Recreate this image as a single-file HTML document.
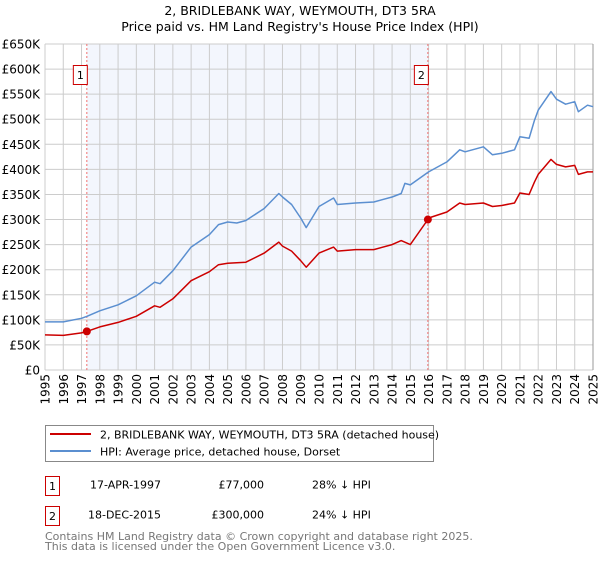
<!DOCTYPE html>
<html><head><meta charset="utf-8"><style>
body{margin:0;background:#fff;font-family:"DejaVu Sans","Liberation Sans",sans-serif}
svg text{font-family:"DejaVu Sans","Liberation Sans",sans-serif}
</style></head><body>
<svg id="chart" width="600" height="560" xmlns="http://www.w3.org/2000/svg">
<text x="300" y="15" text-anchor="middle" font-size="12.5">2, BRIDLEBANK WAY, WEYMOUTH, DT3 5RA</text>
<text x="300" y="31" text-anchor="middle" font-size="12.5">Price paid vs. HM Land Registry's House Price Index (HPI)</text>
<g id="plot"></g>
<g>
<rect x="45.5" y="425.5" width="388" height="36" fill="#fff" stroke="#888"/>
<line x1="50" y1="434" x2="91" y2="434" stroke="#cc0000" stroke-width="2"/>
<text x="100" y="438.5" font-size="11">2, BRIDLEBANK WAY, WEYMOUTH, DT3 5RA (detached house)</text>
<line x1="50" y1="451" x2="91" y2="451" stroke="#5b8fd0" stroke-width="2"/>
<text x="100" y="455.5" font-size="11">HPI: Average price, detached house, Dorset</text>
</g>
<g font-size="11">
<rect x="45.5" y="476.5" width="14" height="19" fill="#fff" stroke="#cc0000"/>
<text x="52.5" y="490" text-anchor="middle">1</text>
<text x="90" y="488.5">17-APR-1997</text>
<text x="264" y="488.5" text-anchor="end">£77,000</text>
<text x="312" y="488.5">28% ↓ HPI</text>
<rect x="45.5" y="506.5" width="14" height="19" fill="#fff" stroke="#cc0000"/>
<text x="52.5" y="520" text-anchor="middle">2</text>
<text x="88" y="518.5">18-DEC-2015</text>
<text x="264" y="518.5" text-anchor="end">£300,000</text>
<text x="312" y="518.5">24% ↓ HPI</text>
</g>
<g font-size="11" fill="#777">
<text x="45" y="540">Contains HM Land Registry data © Crown copyright and database right 2025.</text>
<text x="45" y="550">This data is licensed under the Open Government Licence v3.0.</text>
</g>
</svg>
<script>
const hpiYears=[1995,1996,1997,1997.3,1998,1999,2000,2001,2001.3,2002,2003,2004,2004.5,2005,2005.5,2006,2007,2007.8,2008,2008.5,2009,2009.3,2010,2010.8,2011,2012,2013,2014,2014.5,2014.7,2015,2016,2017,2017.7,2018,2019,2019.5,2020,2020.7,2021,2021.5,2021.8,2022,2022.7,2023,2023.5,2024,2024.2,2024.7,2025];
const hpiValues=[96,96,103,107,118,130,148,175,172,198,245,270,290,295,293,298,322,352,345,330,303,284,326,343,330,333,335,345,352,372,369,395,415,439,435,445,429,432,439,465,462,498,518,555,540,530,535,515,528,525];
const redYears=[1995,1996,1997,1997.29,1998,1999,2000,2001,2001.3,2002,2003,2004,2004.5,2005,2006,2007,2007.8,2008,2008.5,2009,2009.3,2010,2010.8,2011,2012,2013,2014,2014.5,2015,2015.96,2016,2017,2017.7,2018,2019,2019.5,2020,2020.7,2021,2021.5,2021.8,2022,2022.7,2023,2023.5,2024,2024.2,2024.7,2025];
const redValues=[70,69,74,77,86,95,107,128,125,142,178,196,210,213,215,233,255,247,237,218,205,233,245,237,240,240,250,258,250,300,303,315,333,330,333,326,328,333,353,350,375,390,420,410,405,408,390,395,395];
const saleYears=[1997.29,2015.96];
const saleValues=[77,300];
const saleLabels=["1","2"];
const yTicks=[0,50,100,150,200,250,300,350,400,450,500,550,600,650];
const yTickLabels=["£0","£50K","£100K","£150K","£200K","£250K","£300K","£350K","£400K","£450K","£500K","£550K","£600K","£650K"];
const xTicks=[1995,1996,1997,1998,1999,2000,2001,2002,2003,2004,2005,2006,2007,2008,2009,2010,2011,2012,2013,2014,2015,2016,2017,2018,2019,2020,2021,2022,2023,2024,2025];

const X0=45,X1=593,Y0=370,Y1=44;
const xs=v=>X0+(v-1995)/30*(X1-X0);
const ys=v=>Y0-v/650*(Y0-Y1);
const NS="http://www.w3.org/2000/svg";
const g=document.getElementById('plot');
function mk(t,a,p){const e=document.createElementNS(NS,t);for(const k in a)e.setAttribute(k,a[k]);(p||g).appendChild(e);return e;}
let bg=mk('rect',{x:X0,y:Y1,width:X1-X0,height:Y0-Y1,fill:'#fff'});


let sh=mk('rect',{x:xs(saleYears[0]),y:Y1,width:xs(saleYears[1])-xs(saleYears[0]),height:Y0-Y1,fill:'#f3f6fd'});


xTicks.forEach(t=>{
 let l=mk('line',{x1:xs(t),x2:xs(t),y1:Y1,y2:Y0,stroke:'#ccc','stroke-width':1});
 
 
 let tx=mk('text',{x:0,y:0,'font-size':12,'text-anchor':'end',transform:`translate(${xs(t)+4.5},374) rotate(-90)`});
 tx.textContent=t;
 
 
});
yTicks.forEach((t,i)=>{
 let l=mk('line',{x1:X0,x2:X1,y1:ys(t),y2:ys(t),stroke:'#ccc','stroke-width':1});
 
 
 let tx=mk('text',{x:40,y:ys(t)+4.5,'font-size':12,'text-anchor':'end'});
 tx.textContent=yTickLabels[i];
 
 
});
let edge=mk('line',{x1:X1,x2:X1,y1:Y1,y2:Y0,stroke:'#999'});


saleYears.forEach((s,i)=>{
 let l=mk('line',{x1:xs(s),x2:xs(s),y1:Y1,y2:Y0,stroke:'#f07070','stroke-dasharray':'2,2'});
 
 
 let r=mk('rect',{x:xs(s)-13.5,y:65.5,width:14,height:19,fill:'#fff',stroke:'#cc0000'});
 
 
 let t=mk('text',{x:xs(s)-6.5,y:79,'font-size':11,'text-anchor':'middle'});
 t.textContent=saleLabels[i];
 
 
});
function line(xsArr,vs,c,name){
 const d=xsArr.map((x,i)=>(i?'L':'M')+xs(x).toFixed(1)+','+ys(vs[i]).toFixed(1)).join('');
 let p=mk('path',{d:d,fill:'none',stroke:c,'stroke-width':1.5,'stroke-linejoin':'round'});
 
 
}
line(hpiYears,hpiValues,'#5b8fd0','hpi-line');
line(redYears,redValues,'#cc0000','property-price-line');
saleYears.forEach((s,i)=>{
 let c=mk('circle',{cx:xs(s),cy:ys(saleValues[i]),r:4,fill:'#cc0000'});
 
 
});
</script>
</body></html>
